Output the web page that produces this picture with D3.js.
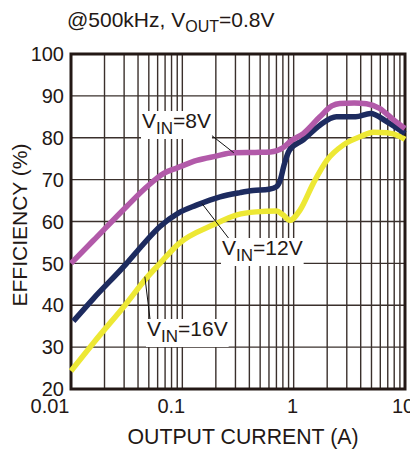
<!DOCTYPE html>
<html>
<head>
<meta charset="utf-8">
<script src="https://cdn.jsdelivr.net/npm/d3@7"></script>
<style>
  html, body { margin: 0; padding: 0; background: #fff; }
  svg { display: block; font-family: "Liberation Sans", Arial, sans-serif; }
</style>
</head>
<body>
<svg id="chart" width="410" height="451"></svg>
<script>
// ---- data ----
const xTicks = [0.01, 0.1, 1, 10];
const xTickLabels = ["0.01", "0.1", "1", "10"];
const yTicks = [20, 30, 40, 50, 60, 70, 80, 90, 100];

const vin8I   = [0.01, 0.0158, 0.0316, 0.048, 0.068, 0.09, 0.135, 0.2, 0.285, 0.45, 0.62, 0.8, 0.95, 1.22, 1.72, 2.2, 2.6, 3.5, 4.5, 5.9, 7.8, 10];
const vin8E   = [50.0, 55.4, 63.6, 68.3, 71.5, 72.8, 74.6, 75.6, 76.4, 76.5, 76.6, 77.6, 79.3, 81.0, 85.0, 87.6, 88.2, 88.3, 88.1, 87.0, 84.4, 82.2];

const vin12I  = [0.0105, 0.0159, 0.0316, 0.042, 0.063, 0.092, 0.134, 0.218, 0.33, 0.43, 0.6, 0.7, 0.76, 0.82, 0.92, 1.22, 1.72, 2.42, 3.6, 4.9, 6.9, 10];
const vin12E  = [36.2, 41.6, 50.0, 53.8, 58.8, 62.0, 63.9, 65.9, 66.9, 67.4, 67.7, 68.3, 70.0, 73.5, 77.1, 79.5, 83.0, 85.0, 85.0, 85.8, 83.8, 81.0];

const vin16I  = [0.01, 0.0159, 0.0316, 0.048, 0.063, 0.092, 0.19, 0.31, 0.46, 0.70, 0.80, 0.92, 1.14, 1.5, 2.0, 2.8, 4.0, 5.2, 6.9, 9.0, 10];
const vin16E  = [24.3, 31.0, 40.5, 46.6, 50.0, 54.6, 59.2, 61.6, 62.3, 62.5, 61.6, 60.3, 62.7, 69.1, 74.7, 78.3, 80.3, 81.3, 81.2, 80.3, 79.6];

const seriesNames = ["8V", "12V", "16V"];

// ---- layout ----
const svg = d3.select("#chart");
const L = 71, R = 405, T = 54, B = 389;

const x = d3.scaleLog().domain([0.01, 10]).range([L, R]);
const y = d3.scaleLinear().domain([20, 100]).range([B, T]);

const gridColor = "#3a302c";

// vertical grid lines (1..9 per decade)
const minor = [];
for (let d = 0.01; d < 10; d *= 10) {
  for (let k = 1; k <= 9; k++) minor.push(+(d * k).toPrecision(3));
}
minor.push(10);
svg.append("g").selectAll("line").data(minor).join("line")
  .attr("x1", d => x(d)).attr("x2", d => x(d))
  .attr("y1", T).attr("y2", B)
  .attr("stroke", gridColor).attr("stroke-width", 1.4);

// horizontal grid lines
svg.append("g").selectAll("line").data(yTicks).join("line")
  .attr("x1", L).attr("x2", R)
  .attr("y1", d => y(d)).attr("y2", d => y(d))
  .attr("stroke", gridColor).attr("stroke-width", 1.4);

// frame
svg.append("rect").attr("x", L).attr("y", T).attr("width", R - L).attr("height", B - T)
  .attr("fill", "none").attr("stroke", "#231815").attr("stroke-width", 3);

// y tick labels
svg.append("g").selectAll("text").data(yTicks).join("text")
  .attr("x", L - 7).attr("y", d => y(d)).attr("dy", "0.36em")
  .attr("text-anchor", "end").attr("font-size", 20).attr("fill", "#231815")
  .text(d => d);

// x tick labels
const xLabelShift = [-21, -11, -1, -2];
svg.append("g").selectAll("text").data(xTicks).join("text")
  .attr("x", (d, i) => x(d) + xLabelShift[i]).attr("y", 413)
  .attr("text-anchor", "middle").attr("font-size", 20).attr("fill", "#231815")
  .text((d, i) => xTickLabels[i]);

// axis titles
svg.append("text").attr("x", 243).attr("y", 444).attr("text-anchor", "middle")
  .attr("font-size", 21.3).attr("fill", "#231815").text("OUTPUT CURRENT (A)");
svg.append("text").attr("transform", "translate(27,225) rotate(-90)")
  .attr("text-anchor", "middle").attr("font-size", 21).attr("fill", "#231815")
  .text("EFFICIENCY (%)");

// title
const title = svg.append("text").attr("x", 67).attr("y", 27)
  .attr("font-size", 21).attr("fill", "#231815");
title.append("tspan").text("@500kHz, V");
title.append("tspan").attr("font-size", 16).attr("dy", 5).text("OUT");
title.append("tspan").attr("dy", -5).text("=0.8V");

// curves
const line = d3.line().x(d => x(d[0])).y(d => y(d[1])).curve(d3.curveMonotoneX);
const curves = [
  { I: vin8I,  E: vin8E,  color: "#b25aa9" },
  { I: vin12I, E: vin12E, color: "#1d2b5f" },
  { I: vin16I, E: vin16E, color: "#ede834" }
];
// draw yellow first, then navy, then purple
[2, 1, 0].forEach(i => {
  const c = curves[i];
  svg.append("path")
    .datum(c.I.map((v, j) => [v, c.E[j]]))
    .attr("d", line)
    .attr("fill", "none").attr("stroke", c.color)
    .attr("stroke-width", 5.5).attr("stroke-linejoin", "round");
});

// annotations
function label(xp, yp, name, lx1, ly1, lx2, ly2) {
  const g = svg.append("g");
  g.append("line").attr("x1", lx1).attr("y1", ly1).attr("x2", lx2).attr("y2", ly2)
    .attr("stroke", "#111").attr("stroke-width", 1);
  const bg = g.append("rect").attr("fill", "#fff");
  const t = g.append("text").attr("x", xp).attr("y", yp).attr("font-size", 21).attr("fill", "#231815");
  t.append("tspan").text("V");
  t.append("tspan").attr("font-size", 17).attr("dy", 6).text("IN");
  t.append("tspan").attr("dy", -6).text("=" + name);
  const bb = t.node().getBBox();
  bg.attr("x", bb.x - 1).attr("y", bb.y + 2).attr("width", bb.width + 2).attr("height", bb.height - 1);
}
label(142, 128, seriesNames[0], 206, 131, x(0.29), y(76.4));
label(222, 255, seriesNames[1], 230, 240, x(0.15), y(64.3));
label(147, 336, seriesNames[2], 150, 319, x(0.048) - 2, y(46.6) - 1);
</script>
</body>
</html>
